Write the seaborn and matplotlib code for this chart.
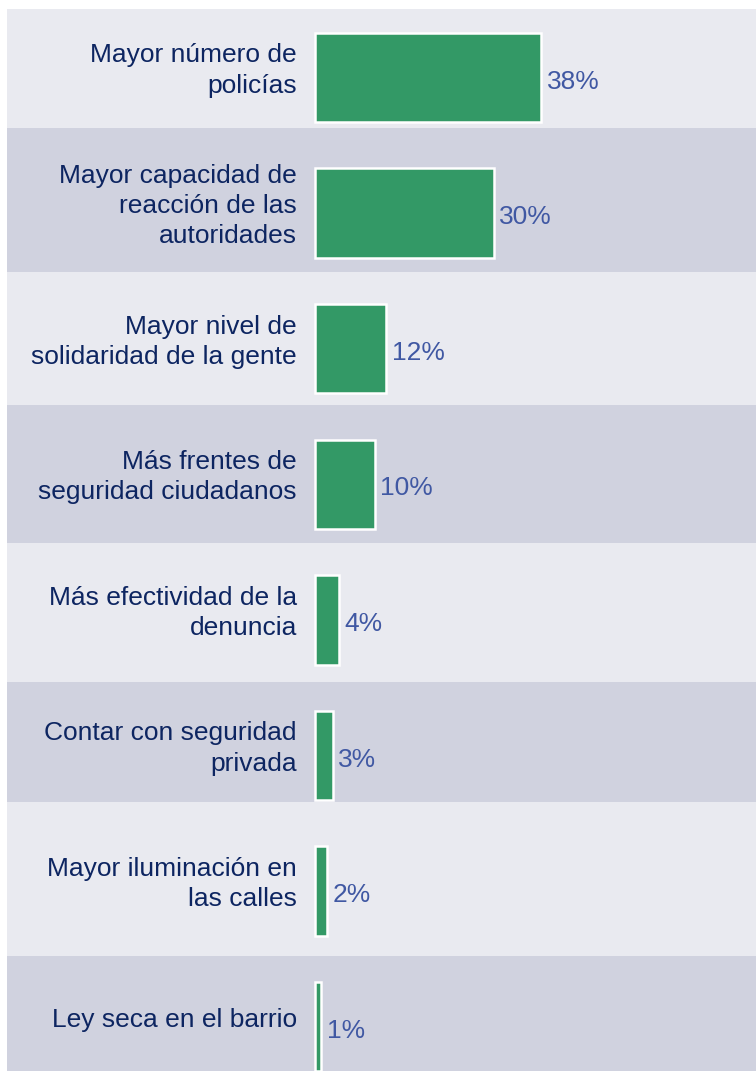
import pandas as pd
import matplotlib
matplotlib.use("Agg")
import matplotlib.pyplot as plt
import seaborn as sns

categories = [
    "Mayor número de\npolicías",
    "Mayor capacidad de\nreacción de las\nautoridades",
    "Mayor nivel de\nsolidaridad de la gente",
    "Más frentes de\nseguridad ciudadanos",
    "Más efectividad de la\ndenuncia",
    "Contar con seguridad\nprivada",
    "Mayor iluminación en\nlas calles",
    "Ley seca en el barrio",
]
values = [38, 30, 12, 10, 4, 3, 2, 1]
value_labels = [f"{v}%" for v in values]

df = pd.DataFrame({"category": categories, "value": values})

BAR_GREEN = "#339966"
LIGHT_BAND = "#e9eaf0"
DARK_BAND = "#d0d2df"
LABEL_NAVY = "#0d2561"
VALUE_BLUE = "#4058a3"

sns.set_theme(style="white")
plt.rcParams["font.family"] = ["Liberation Sans", "DejaVu Sans"]

fig = plt.figure(figsize=(7.56, 10.71), dpi=100)
ax = fig.add_axes([7 / 756, 0, 749 / 756, 1062 / 1071])
ax.set_facecolor(LIGHT_BAND)

# darker row bands (edges, in row units)
dark_bands = [(0.372, 1.434), (2.415, 3.433), (4.458, 5.343), (6.478, 7.5)]
for lo, hi in dark_bands:
    ax.axhspan(lo, hi, color=DARK_BAND, zorder=0, lw=0)

sns.barplot(data=df, x="value", y="category", orient="h", color=BAR_GREEN,
            saturation=1, width=0.66, edgecolor="white", linewidth=1.8,
            ax=ax, zorder=2)

anns = ax.bar_label(ax.containers[0], labels=value_labels, padding=4,
                    fontsize=19, color=VALUE_BLUE)
for a in anns:
    a.xyann = (4, -3)

ax.set_xlim(-51.76, 74.1)
ax.set_ylim(7.327, -0.505)
ax.set_xlabel("")
ax.set_ylabel("")
ax.set_xticks([])
ax.set_yticks([])
for s in ax.spines.values():
    s.set_visible(False)

# category labels just left of the zero line, sitting a little above centre
for pos, label in enumerate(categories):
    ax.annotate(label, xy=(0, pos), xytext=(-13, 5), textcoords="offset points",
                ha="right", va="center", ma="right", fontsize=19,
                color=LABEL_NAVY, linespacing=1.32)

fig.savefig("out.png", dpi=100)
